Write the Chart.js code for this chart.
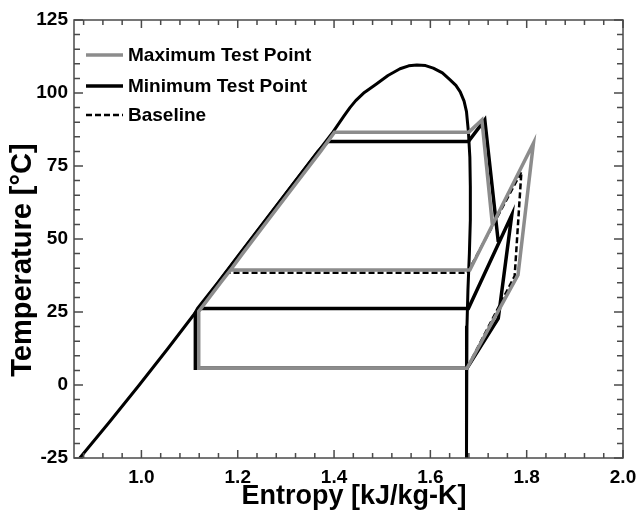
<!DOCTYPE html>
<html>
<head>
<meta charset="utf-8">
<script src="https://cdn.jsdelivr.net/npm/chart.js@4.4.0/dist/chart.umd.min.js"></script>
<style>
  html, body { margin: 0; padding: 0; background: #ffffff; }
  #wrap { width: 638px; height: 522px; }
</style>
</head>
<body>
<div id="wrap"><canvas id="c" width="638" height="522"></canvas></div>
<script>
// Saturation dome of the working fluid: liquid branch up to the critical point, then vapour branch down
const domeS = [0.872, 0.9345, 0.9955, 1.055, 1.113, 1.159, 1.205, 1.2605, 1.316, 1.367, 1.398, 1.420, 1.433, 1.445, 1.463, 1.488, 1.512, 1.537, 1.555, 1.572,
               1.590, 1.606, 1.625, 1.641, 1.653, 1.662, 1.670, 1.675, 1.679, 1.682, 1.683, 1.683, 1.681, 1.678, 1.676, 1.674, 1.675, 1.676];
const domeT = [-25.0, -12.5, 0.0, 12.5, 25.0, 35.0, 45.0, 57.0, 69.0, 80.0, 86.7, 92.0, 95.0, 97.4, 100.2, 103.1, 106.0, 108.3, 109.3, 109.6,
               109.4, 108.5, 106.9, 104.5, 102.6, 100.4, 97.2, 93.6, 86.7, 78.0, 68.0, 56.5, 45.0, 32.5, 20.0, 6.3, -10.0, -25.0];

// Maximum test point (power cycle + vapour-compression cycle)
const maxS = [1.729, 1.707, 1.680, 1.401, 1.372, 1.321, 1.2655, 1.210, 1.185, 1.164, 1.119, 1.119, 1.676, 1.782, 1.814, 1.682, 1.185];
const maxT = [54.5, 90.8, 86.6, 86.6, 80.0, 69.0, 57.0, 45.0, 39.4, 35.0, 25.2, 5.7, 5.7, 37.7, 82.8, 39.4, 39.4];

// Minimum test point
const minS = [1.741, 1.713, 1.679, 1.387, 1.367, 1.316, 1.2605, 1.205, 1.159, 1.117, 1.112, 1.112, 1.676, 1.741, 1.769, 1.679, 1.117];
const minT = [49.0, 90.8, 83.4, 83.4, 80.0, 69.0, 57.0, 45.0, 35.0, 26.2, 24.7, 5.7, 5.7, 22.8, 58.2, 26.2, 26.2];

// Baseline vapour-compression cycle
const baseS = [1.119, 1.676, 1.775, 1.789, 1.677, 1.179, 1.162, 1.119, 1.119];
const baseT = [5.7, 5.7, 37.3, 73.0, 38.4, 38.4, 35.0, 25.2, 5.7];

// Axis ticks
const xTickValues = [1.0, 1.2, 1.4, 1.6, 1.8, 2.0];
const yTickValues = [-25, 0, 25, 50, 75, 100, 125];
const xMinorStep = 0.04;
const yMinorStep = 5;

const seriesNames = ['Maximum Test Point', 'Minimum Test Point', 'Baseline'];
const xTitle = 'Entropy [kJ/kg-K]';
const yTitle = 'Temperature [°C]';

const FONT = "'Liberation Sans', Arial, Helvetica, sans-serif";
const GRAY = '#8c8c8c';

const toPoints = (s, t) => s.map((v, i) => ({ x: v, y: t[i] }));

// Inward tick marks on all four sides plus the plot frame
const framePlugin = {
  id: 'frame',
  afterDraw(chart) {
    const { ctx, chartArea: a, scales: { x, y } } = chart;
    ctx.save();
    ctx.strokeStyle = '#4a4a4a';
    ctx.lineWidth = 1.5;
    ctx.beginPath();
    const iStart = Math.ceil(x.min / xMinorStep - 1e-9);
    for (let i = iStart; i * xMinorStep <= x.max + 1e-9; i++) {
      const v = i * xMinorStep;
      const px = x.getPixelForValue(v);
      const major = Math.abs(v / 0.2 - Math.round(v / 0.2)) < 1e-6;
      const len = major ? 8 : 5;
      ctx.moveTo(px, a.bottom); ctx.lineTo(px, a.bottom - len);
      ctx.moveTo(px, a.top); ctx.lineTo(px, a.top + len);
    }
    for (let j = Math.ceil(y.min / yMinorStep); j * yMinorStep <= y.max; j++) {
      const v = j * yMinorStep;
      const py = y.getPixelForValue(v);
      const len = (v % 25 === 0) ? 9 : 6;
      ctx.moveTo(a.left, py); ctx.lineTo(a.left + len, py);
      ctx.moveTo(a.right, py); ctx.lineTo(a.right - len, py);
    }
    ctx.stroke();
    ctx.strokeRect(a.left, a.top, a.right - a.left, a.bottom - a.top);
    ctx.restore();
  }
};

// Axis titles
const titlePlugin = {
  id: 'axisTitles',
  afterDraw(chart) {
    const { ctx } = chart;
    ctx.save();
    ctx.fillStyle = '#000';
    ctx.textAlign = 'center';
    ctx.textBaseline = 'middle';
    ctx.font = `bold 27px ${FONT}`;
    ctx.fillText(xTitle, 354, 497);
    ctx.translate(23, 260);
    ctx.rotate(-Math.PI / 2);
    ctx.font = `bold 29px ${FONT}`;
    ctx.fillText(yTitle, 0, 0);
    ctx.restore();
  }
};

// Legend drawn inside the plot area, upper left
const legendPlugin = {
  id: 'innerLegend',
  afterDraw(chart) {
    const { ctx } = chart;
    const rows = [55, 86, 115];
    ctx.save();
    ctx.font = `bold 19px ${FONT}`;
    ctx.textBaseline = 'middle';
    ctx.fillStyle = '#000';
    rows.forEach((ry, i) => {
      const ds = chart.data.datasets[i];
      ctx.strokeStyle = ds.borderColor;
      ctx.lineWidth = ds.borderWidth;
      ctx.setLineDash(ds.borderDash || []);
      ctx.beginPath();
      ctx.moveTo(86, ry);
      ctx.lineTo(123, ry);
      ctx.stroke();
      ctx.setLineDash([]);
      ctx.fillText(seriesNames[i], 128, ry + 1);
    });
    ctx.restore();
  }
};

new Chart(document.getElementById('c'), {
  type: 'scatter',
  data: {
    datasets: [
      { label: seriesNames[0], data: toPoints(maxS, maxT), showLine: true, borderColor: GRAY, borderWidth: 3.5, pointRadius: 0, tension: 0, borderJoinStyle: 'miter' },
      { label: seriesNames[1], data: toPoints(minS, minT), showLine: true, borderColor: '#000000', borderWidth: 3.5, pointRadius: 0, tension: 0, borderJoinStyle: 'miter' },
      { label: seriesNames[2], data: toPoints(baseS, baseT), showLine: true, borderColor: '#000000', borderWidth: 2.5, borderDash: [6, 3], pointRadius: 0, tension: 0 },
      { label: 'Saturation', data: toPoints(domeS, domeT), showLine: true, borderColor: '#000000', borderWidth: 3, pointRadius: 0, tension: 0, borderJoinStyle: 'round' }
    ]
  },
  options: {
    responsive: false,
    animation: false,
    events: [],
    devicePixelRatio: 1,
    layout: { padding: { top: 20, right: 15, left: 0, bottom: 0 } },
    plugins: { legend: { display: false }, tooltip: { enabled: false } },
    scales: {
      x: {
        type: 'linear', min: 0.86, max: 2.0,
        afterBuildTicks: s => { s.ticks = xTickValues.map(v => ({ value: v })); },
        afterFit: s => { s.height = 64; s.paddingLeft = 0; s.paddingRight = 0; },
        grid: { display: false, drawTicks: false },
        border: { display: false },
        ticks: { autoSkip: false, maxRotation: 0, padding: 8, color: '#000',
                 font: { family: FONT, size: 19, weight: 'bold' },
                 callback: v => Number(v).toFixed(1) },
        title: { display: false }
      },
      y: {
        type: 'linear', min: -25, max: 125,
        afterBuildTicks: s => { s.ticks = yTickValues.map(v => ({ value: v })); },
        afterFit: s => { s.width = 74; s.paddingTop = 0; s.paddingBottom = 0; },
        grid: { display: false, drawTicks: false },
        border: { display: false },
        ticks: { padding: 6, color: '#000', font: { family: FONT, size: 19, weight: 'bold' } },
        title: { display: false }
      }
    }
  },
  plugins: [framePlugin, titlePlugin, legendPlugin]
});
</script>
</body>
</html>
